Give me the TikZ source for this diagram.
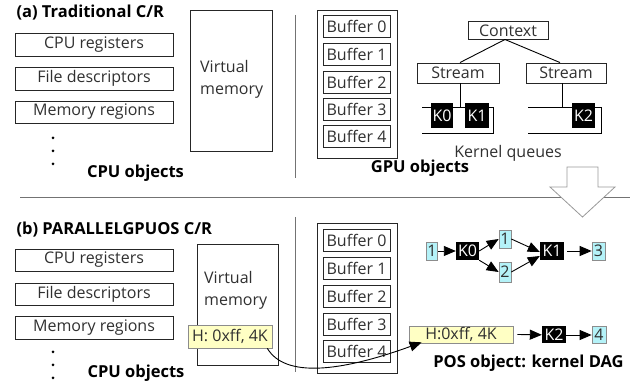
\documentclass[tikz,border=0pt]{standalone}
\usepackage{fontspec}
\setmainfont{Open Sans}
\usetikzlibrary{arrows.meta}
\definecolor{qcyan}{HTML}{B4F2F8}
\definecolor{qyellow}{HTML}{FFFFC4}
\definecolor{qedge}{HTML}{8C8C8C}
\definecolor{qtext}{HTML}{303030}
\tikzset{
  regtext/.style={font=\fontsize{16}{22}\selectfont, text=qtext},
  boldtext/.style={font=\bfseries\fontsize{16.5}{18}\selectfont},
  objbox/.style={draw=black!85, line width=0.9pt, inner sep=0pt, regtext},
  framebox/.style={draw=black!85, line width=0.9pt, inner sep=0pt},
  bufbox/.style={objbox, minimum width=67pt, minimum height=22pt},
  kern/.style={fill=black, text=white, inner sep=0pt, font=\fontsize{16}{18}\selectfont},
  tensor/.style={fill=qcyan, draw=qedge, line width=0.7pt, inner sep=0pt, regtext},
  handle/.style={fill=qyellow, draw=qedge, line width=0.7pt, inner sep=0pt, regtext},
  wire/.style={draw=black, line width=0.9pt},
  dagarrow/.style={draw=black, line width=0.9pt, -{Triangle[length=12pt,width=10pt]}},
  divider/.style={draw=black!55, line width=0.8pt},
  dot/.style={circle, fill=black, inner sep=0pt, minimum size=3pt}
}
\begin{document}
\begin{tikzpicture}[x=1pt, y=-1pt]
\useasboundingbox (0,0) rectangle (641,387);

% ---------------- (a) traditional checkpoint/restore ----------------
\node[boldtext, anchor=west] (titleA) at (13,13) {(a) Traditional C/R};

\node[objbox, minimum width=158pt, minimum height=23pt] (cpuA) at (94,44.5) {CPU registers};
\node[objbox, minimum width=158pt, minimum height=23pt] (fdA)  at (94,78.5) {File descriptors};
\node[objbox, minimum width=158pt, minimum height=22pt] (memA) at (94,112)  {Memory regions};
\node[dot] (dotA1) at (53,138) {};
\node[dot] (dotA2) at (53,151) {};
\node[dot] (dotA3) at (53,164) {};
\node[boldtext] (cpuobjA) at (135.5,173) {CPU objects};

\node[framebox, minimum width=82pt, minimum height=141pt] (vmA) at (231,80.5) {};
\node[regtext, anchor=west, align=left, inner sep=0pt] (vmtextA) at (200,79) {Virtual\\memory};

\draw[divider] (295,15) -- (295,178);

\node[framebox, minimum width=80pt, minimum height=148pt] (bufsA) at (357,84) {};
\node[bufbox] (bA0) at (356.5,26)  {Buffer 0};
\node[bufbox] (bA1) at (356.5,54)  {Buffer 1};
\node[bufbox] (bA2) at (356.5,82)  {Buffer 2};
\node[bufbox] (bA3) at (356.5,109) {Buffer 3};
\node[bufbox] (bA4) at (356.5,136) {Buffer 4};
\node[boldtext] (gpuobjA) at (420,168) {GPU objects};

\node[objbox, minimum width=80pt, minimum height=18pt] (ctx) at (508,30.5) {Context};
\node[objbox, minimum width=82pt, minimum height=20pt] (strA) at (458,73) {Stream};
\node[objbox, minimum width=80pt, minimum height=20pt] (strB) at (566,73) {Stream};
\coordinate (ctxfoot) at (505,39.5);
\draw[wire] (ctxfoot) -- (strA.north -| 460,0);
\draw[wire] (ctxfoot) -- (strB.north -| 560,0);

% kernel queues (open on the left)
\coordinate (qAtop) at (460,107);
\draw[wire] (422,107) -- (493,107) -- (493,133) -- (422,133);
\draw[wire] (strA.south -| qAtop) -- (qAtop);
\coordinate (qBtop) at (562,107);
\draw[wire] (528,107) -- (601,107) -- (601,133) -- (528,133);
\draw[wire] (strB.south -| qBtop) -- (qBtop);
\node[kern, minimum width=22pt, minimum height=25pt] (qk0) at (442,115.5) {K0};
\node[kern, minimum width=24pt, minimum height=25pt] (qk1) at (477,115.5) {K1};
\node[kern, minimum width=23pt, minimum height=25pt] (qk2) at (583.5,115.5) {K2};
\node[regtext] (kqlabel) at (508,153) {Kernel queues};

% separator and transition arrow
\draw[divider] (20,197) -- (630,197);
\draw[draw=black!40, fill=white, line width=0.8pt]
  (567,167) -- (598,167) -- (598,187) -- (615,187) -- (582.5,217)
  -- (550,187) -- (567,187) -- cycle;

% ---------------- (b) ParallelGPUOS checkpoint/restore ----------------
\node[boldtext, anchor=west] (titleB) at (13,230) {(b) PARALLELGPUOS C/R};

\node[objbox, minimum width=158pt, minimum height=22pt] (cpuB) at (94,260)   {CPU registers};
\node[objbox, minimum width=158pt, minimum height=22pt] (fdB)  at (94,294)   {File descriptors};
\node[objbox, minimum width=158pt, minimum height=23pt] (memB) at (94,327.5) {Memory regions};
\node[dot] (dotB1) at (53,352) {};
\node[dot] (dotB2) at (53,365) {};
\node[dot] (dotB3) at (53,378) {};
\node[boldtext] (cpuobjB) at (136,373) {CPU objects};

\node[framebox, minimum width=81pt, minimum height=121pt] (vmB) at (237.5,304.5) {};
\node[regtext, anchor=west, align=left, inner sep=0pt] (vmtextB) at (204,290) {Virtual\\memory};
\node[handle, minimum width=84pt, minimum height=23pt] (hv) at (230,336.5) {H: 0xff, 4K};

\draw[divider] (295,217) -- (295,372);

\node[framebox, minimum width=80pt, minimum height=150pt] (bufsB) at (357,298) {};
\node[bufbox] (bB0) at (356.5,240) {Buffer 0};
\node[bufbox] (bB1) at (356.5,268) {Buffer 1};
\node[bufbox] (bB2) at (356.5,296) {Buffer 2};
\node[bufbox] (bB3) at (356.5,324) {Buffer 3};
\node[bufbox] (bB4) at (356.5,351) {Buffer 4};

% kernel DAG
\node[tensor, minimum width=11pt, minimum height=18pt] (t1)  at (432,251)   {1};
\node[kern,   minimum width=23pt, minimum height=18pt] (dk0) at (467.5,251) {K0};
\node[tensor, minimum width=12pt, minimum height=18pt] (t1b) at (505,239)   {1};
\node[tensor, minimum width=12pt, minimum height=20pt] (t2)  at (505,272)   {2};
\node[kern,   minimum width=24pt, minimum height=18pt] (dk1) at (552,251)   {K1};
\node[tensor, minimum width=13pt, minimum height=18pt] (t3)  at (598.5,251) {3};
\draw[dagarrow] (t1) -- (dk0);
\draw[dagarrow] (dk0.east) -- (t1b.west);
\draw[dagarrow] (dk0.south east) -- (t2.west);
\draw[dagarrow] (t1b.east) -- ([yshift=-1pt]dk1.west);
\draw[dagarrow] (t2.east) -- ([yshift=-5pt]dk1.west);
\draw[dagarrow] ([xshift=3pt]dk1.east) -- (t3);

\node[handle, minimum width=104pt, minimum height=17pt] (hb) at (461,334.5) {H:0xff, 4K};
\node[kern,   minimum width=24pt, minimum height=17pt] (dk2) at (554,335) {K2};
\node[tensor, minimum width=14pt, minimum height=17pt] (t4)  at (599,335) {4};
\draw[dagarrow] ([xshift=4pt]hb.east) -- (dk2);
\draw[dagarrow] (dk2) -- (t4);
\node[boldtext] (posobj) at (528.5,363) {POS object: kernel DAG};

% handle carried from CPU memory into the POS object
\draw[dagarrow] ([xshift=-5pt]hv.south east) .. controls (285,378) and (340,372) .. ([xshift=13pt,yshift=1pt]hb.south west);
\end{tikzpicture}
\end{document}
